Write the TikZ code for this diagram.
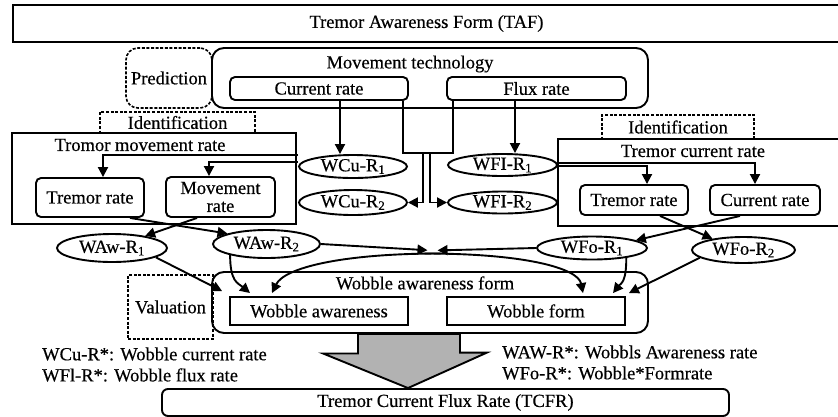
\documentclass[tikz,border=0pt]{standalone}
\usepackage{fontspec}
\setmainfont{Liberation Serif}[UprightFeatures={FakeBold=0.4}]
\usepackage{tikz}
\usetikzlibrary{shapes,arrows.meta,positioning,calc}

\tikzset{
  txt/.style={font=\fontsize{18.5pt}{20pt}\selectfont, inner sep=1pt},
  sbox/.style={draw, line width=1.9pt, rectangle, txt},
  rbox/.style={sbox, rounded corners=5pt},
  dbox/.style={draw, line width=1.6pt, dash pattern=on 3pt off 1.6pt, txt},
  ell/.style={draw, ellipse, line width=1.9pt, txt, inner sep=0pt, minimum width=108pt, minimum height=24pt},
  arr/.style={line width=1.9pt, -{Triangle[length=10pt,width=10pt]}},
}

\begin{document}
\begin{tikzpicture}[x=1pt, y=-1pt]
    \useasboundingbox (0,0) rectangle (838,416);

    % Top frame
    \node[sbox, minimum width=827pt, minimum height=37pt] (taf) at (426.5,23.5) {Tremor Awareness Form (TAF)};

    % Movement technology
    \node[dbox, rounded corners=12pt, minimum width=86pt, minimum height=60pt] (pred) at (169,78) {Prediction};
    \node[sbox, rounded corners=12pt, minimum width=436pt, minimum height=60pt] (mt) at (430,78) {};
    \node[txt] (mtlab) at (410,64) {Movement technology};
    \node[rbox, minimum width=178pt, minimum height=23pt] (cur) at (319,88.5) {Current rate};
    \node[rbox, minimum width=179pt, minimum height=23pt] (flux) at (536.5,88.5) {Flux rate};

    % Identification
    \node[dbox, minimum width=155pt, minimum height=21pt] (idl) at (177.5,122.5) {Identification};
    \node[dbox, minimum width=152pt, minimum height=24pt] (idr) at (678,127) {Identification};

    % Left group
    \node[sbox, minimum width=284pt, minimum height=91pt] (tmr) at (154,178.5) {};
    \node[txt] (tmrlab) at (140,145) {Tromor movement rate};
    \node[rbox, minimum width=108pt, minimum height=39pt] (trl) at (90,197.5) {Tremor rate};
    \node[rbox, minimum width=109pt, minimum height=40pt, align=center, font=\fontsize{18.5pt}{18pt}\selectfont] (mvr) at (220.5,197) {Movement\\rate};

    % Right group
    \node[sbox, minimum width=282pt, minimum height=87pt] (tcr) at (699,182.5) {};
    \node[txt] (tcrlab) at (693,151) {Tremor current rate};
    \node[rbox, minimum width=108pt, minimum height=30pt] (trr) at (634,200) {Tremor rate};
    \node[rbox, minimum width=110pt, minimum height=30pt] (ccr) at (765,200) {Current rate};

    % Rates
    \node[ell, minimum height=23pt] (wcu1) at (353,166.5) {WCu-R\textsubscript{1}};
    \node[ell, minimum height=25pt] (wcu2) at (353,202.5) {WCu-R\textsubscript{2}};
    \node[ell, minimum width=109pt, minimum height=22pt] (wfi1) at (502.5,165) {WFI-R\textsubscript{1}};
    \node[ell, minimum width=109pt, minimum height=22pt] (wfi2) at (502.5,202.5) {WFI-R\textsubscript{2}};
    \node[ell, minimum width=110pt, minimum height=28pt] (waw1) at (112,248) {WAw-R\textsubscript{1}};
    \node[ell, minimum width=107pt, minimum height=28pt] (waw2) at (266.5,244) {WAw-R\textsubscript{2}};
    \node[ell, minimum width=110pt, minimum height=23pt] (wfo1) at (592,248) {WFo-R\textsubscript{1}};
    \node[ell, minimum width=103pt, minimum height=26pt] (wfo2) at (743.5,250) {WFo-R\textsubscript{2}};

    % Wobble awareness form
    \node[dbox, minimum width=85pt, minimum height=64pt] (val) at (170.5,307) {Valuation};
    \node[sbox, rounded corners=12pt, minimum width=436pt, minimum height=61pt] (waf) at (430,302.5) {};
    \node[txt] (waflab) at (425,283) {Wobble awareness form};
    \node[sbox, minimum width=178pt, minimum height=28pt] (wa) at (319,311) {Wobble awareness};
    \node[sbox, minimum width=178pt, minimum height=28pt] (wf) at (536,311) {Wobble form};

    \node[rbox, rounded corners=6pt, minimum width=567pt, minimum height=27pt] (tcfr) at (445.5,402.5) {Tremor Current Flux Rate (TCFR)};

    % Legend
    \node[txt, anchor=west] (legcu) at (41,354) {WCu-R*: Wobble current rate};
    \node[txt, anchor=west] (legfl) at (41,375) {WFl-R*: Wobble flux rate};
    \node[txt, anchor=west] (legaw) at (501,352) {WAW-R*: Wobbls Awareness rate};
    \node[txt, anchor=west] (legfo) at (501,373) {WFo-R*: Wobble*Formrate};

    % Big arrow
    \draw[line width=1.9pt, fill=gray!60] ([xshift=-72pt]waf.south) -- ++(0,19.5) -- ++(-35,0)
        -- ([xshift=-37.5pt]tcfr.north) -- ++(79,-35.5) -- ++(-27,0) -- ([xshift=30pt]waf.south) -- cycle;

    % From movement technology
    \draw[arr] ([xshift=21pt]cur.south) -- ([xshift=21pt]cur.south |- wcu1.north);
    \draw[arr] ([xshift=-21.5pt]flux.south) -- ([xshift=-21.5pt]flux.south |- wfi1.north);
    \draw[arr] ([xshift=84pt]cur.south) -- ++(0,52) -- ++(27,0) |- (wfi2.west);
    \draw[arr] ([xshift=-83.5pt]flux.south) -- ++(0,52) -- ++(-30,0) |- (wcu2.east);

    % Into the rate groups
    \draw[arr] ([yshift=11.5pt]wcu1.west) -| ([xshift=13pt]trl.north);
    \draw[arr] ([yshift=4.5pt]wcu1.west) -| ([xshift=-11.5pt]mvr.north);
    \draw[arr] ([yshift=2pt]wfi1.east) -| ([xshift=-10pt]ccr.north);
    \draw[arr] ([yshift=-1pt]wfi1.east) -| ([xshift=13pt]trr.north);

    % Out of the rate groups
    \draw[arr] ([xshift=40pt]trl.south) -- (waw2.165);
    \draw[arr] ([xshift=-23.5pt]mvr.south) -- (waw1.20);
    \draw[arr] ([xshift=26pt]trr.south) -- (wfo2.160);
    \draw[arr] ([xshift=-25pt]ccr.south) -- (wfo1.10);

    % Middle
    \coordinate (meet) at (432.5,250.5);
    \draw[arr, shorten >=5pt] (waw2.east) -- (meet);
    \draw[arr, shorten >=5pt] (wfo1.west) -- (meet);
    \draw[arr] ([xshift=8pt,yshift=-3pt]meet) .. controls +(-100,0) and +(12,-25) .. ([shift={(-47pt,3pt)}]wa.north);
    \draw[arr] ([xshift=-8pt,yshift=-3pt]meet) .. controls +(100,0) and +(-5,-25) .. ([shift={(47pt,3pt)}]wf.north);

    % Down to wobble awareness form
    \draw[arr] (waw1.-12) -- ([shift={(-7pt,5pt)}]wa.north west);
    \draw[arr] (waw2.197) .. controls +(0,27) and +(-12,-10) .. ([shift={(-69pt,3pt)}]wa.north);
    \draw[arr] (wfo1.-16) .. controls +(0,25) and +(8,-10) .. ([shift={(77pt,3pt)}]wf.north);
    \draw[arr] (wfo2.190) -- ([shift={(3pt,3pt)}]wf.north east);
\end{tikzpicture}
\end{document}
